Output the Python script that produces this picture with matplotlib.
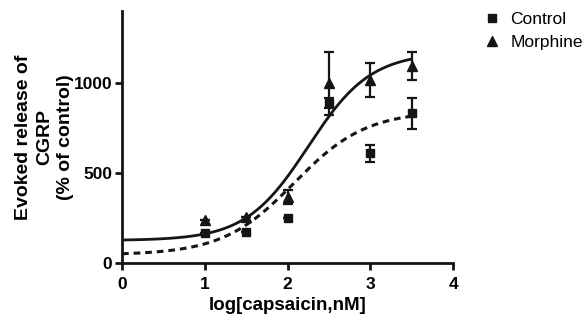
import numpy as np
import matplotlib
matplotlib.use("Agg")
import matplotlib.pyplot as plt

plt.rcParams['font.family'] = ['Liberation Sans', 'DejaVu Sans']

# data
log_cap = [1.0, 1.5, 2.0, 2.5, 3.0, 3.5]
control = [168, 174, 248, 889, 609, 831]
control_err = [0, 0, 0, 30, 46, 85]
morphine = [239, 257, 368, 998, 1017, 1094]
morphine_err = [0, 0, 40, 177, 95, 80]

# sigmoidal fit parameters (bottom, top, logEC50, hill)
control_fit = [45, 845, 2.08, 1.0]
morphine_fit = [125, 1170, 2.25, 1.15]

ink = '#151515'


def sigmoid(x, bottom, top, logec50, hill):
    return bottom + (top - bottom) / (1 + 10 ** ((logec50 - x) * hill))


fig = plt.figure(figsize=(5.86, 3.27), dpi=100)
ax = fig.add_axes([0.2082, 0.1957, 0.5650, 0.7706])

xs = np.linspace(0, 3.5, 200)
ax.plot(xs, sigmoid(xs, *morphine_fit), color=ink, lw=2.0, solid_capstyle='round')
ax.plot(xs, sigmoid(xs, *control_fit), color=ink, lw=2.2, dashes=(2.2, 1.6))

ax.errorbar(log_cap, control, yerr=control_err, fmt='none', ecolor=ink,
            elinewidth=1.6, capsize=3.5, capthick=1.6)
ax.errorbar(log_cap, morphine, yerr=morphine_err, fmt='none', ecolor=ink,
            elinewidth=1.6, capsize=3.5, capthick=1.6)
h1, = ax.plot(log_cap, control, 's', color=ink, ms=6, label='Control')
h2, = ax.plot(log_cap, morphine, '^', color=ink, ms=6.5, label='Morphine')

ax.set_xlim(0, 4)
ax.set_ylim(0, 1400)
ax.set_xticks([0, 1, 2, 3, 4])
ax.set_yticks([0, 500, 1000])
for s in ['top', 'right']:
    ax.spines[s].set_visible(False)
for s in ['left', 'bottom']:
    ax.spines[s].set_linewidth(2.0)
    ax.spines[s].set_color(ink)
ax.tick_params(width=2.0, length=5, color=ink, labelsize=12.5)
ax.tick_params(axis='x', pad=5)
ax.tick_params(axis='y', pad=2)
for lab in ax.get_xticklabels() + ax.get_yticklabels():
    lab.set_fontweight('bold')

ax.set_xlabel('log[capsaicin,nM]', fontsize=13.5, fontweight='bold', labelpad=4)
ax.set_ylabel('Evoked release of\nCGRP\n(% of control)', fontsize=14,
              fontweight='bold', labelpad=0, linespacing=1.3)

fig.legend(handles=[h1, h2], loc='upper left', bbox_to_anchor=(0.818, 0.985),
           frameon=False, fontsize=12.5, handlelength=0.7, handletextpad=0.7,
           labelspacing=0.45, borderaxespad=0)

fig.savefig('out.png', dpi=100)
